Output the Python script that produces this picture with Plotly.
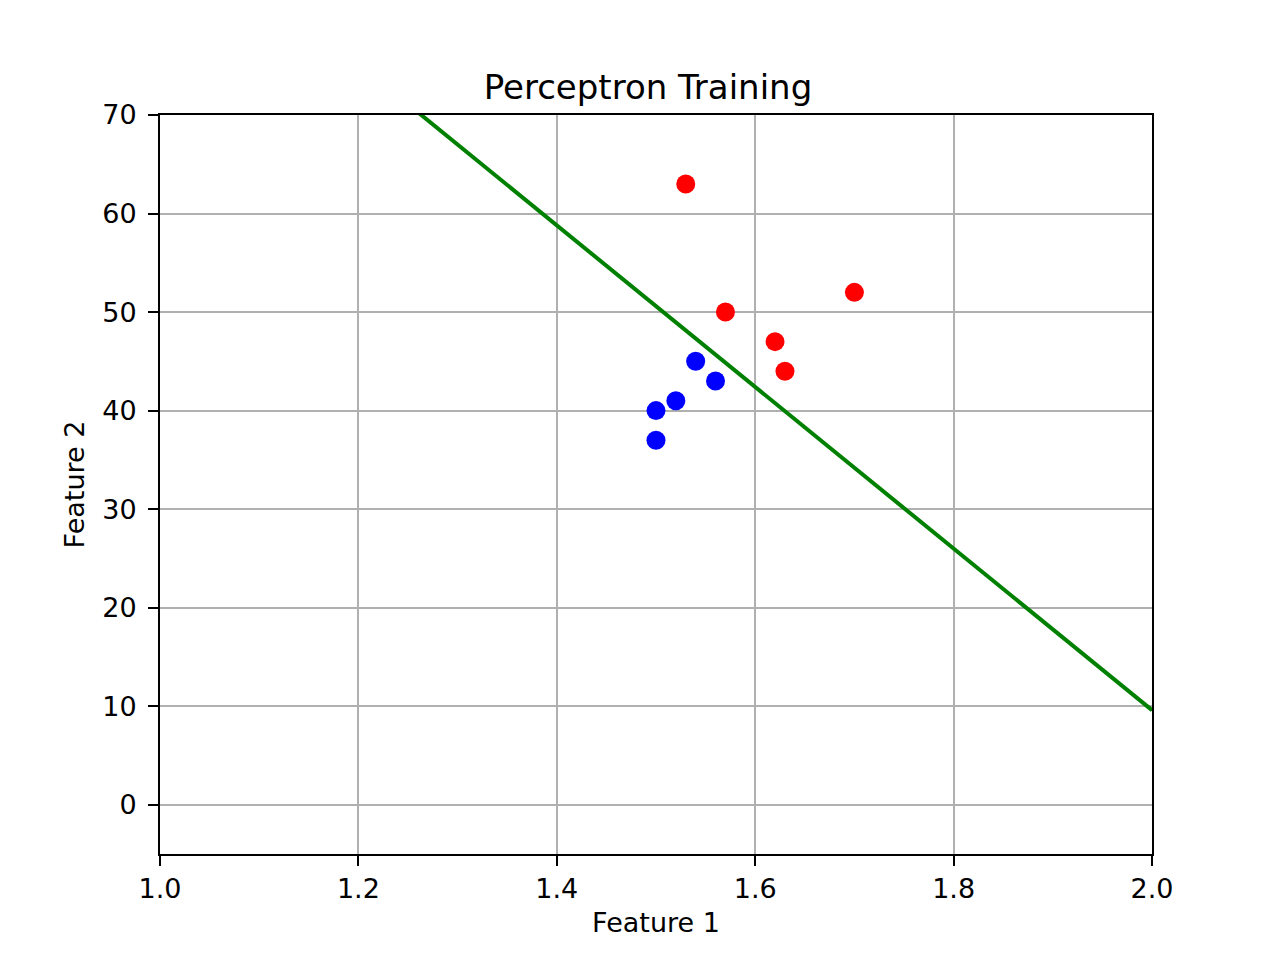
import plotly.graph_objects as go

# Feature values of the two classes
red_x = [1.53, 1.57, 1.62, 1.63, 1.70]
red_y = [63, 50, 47, 44, 52]
blue_x = [1.50, 1.50, 1.52, 1.54, 1.56]
blue_y = [40, 37, 41, 45, 43]

# Decision boundary found by the perceptron
line_x = [1.0, 2.0]
line_y = [91.6, 9.6]

fig = go.Figure()
fig.add_trace(go.Scatter(x=line_x, y=line_y, mode="lines",
                         line=dict(color="green", width=4)))
fig.add_trace(go.Scatter(x=red_x, y=red_y, mode="markers",
                         marker=dict(color="red", size=19)))
fig.add_trace(go.Scatter(x=blue_x, y=blue_y, mode="markers",
                         marker=dict(color="blue", size=19)))

axis_style = dict(showline=True, linecolor="black", linewidth=2, mirror=True,
                  ticks="outside", ticklen=10, tickwidth=2, tickcolor="black",
                  showgrid=True, gridcolor="#b0b0b0", gridwidth=2, zeroline=False,
                  tickfont=dict(size=27, color="black"))

# page body has an 8px margin, so shift the plot area back
fig.update_layout(
    width=1280, height=960,
    paper_bgcolor="white", plot_bgcolor="white",
    margin=dict(l=152, r=136, t=107, b=114),
    showlegend=False,
    font=dict(family="DejaVu Sans", color="black"),
    title=dict(text="Perceptron Training", x=0.5, xanchor="center",
               y=1, yref="paper", yanchor="bottom", pad=dict(b=16),
               font=dict(size=34, color="black")),
)
fig.update_xaxes(range=[1.0, 2.0], dtick=0.2, tickformat=".1f",
                 title=dict(text="Feature 1", font=dict(size=27), standoff=10),
                 **axis_style)
fig.update_yaxes(range=[-5, 70], dtick=10, ticklabelstandoff=6,
                 title=dict(text="Feature 2", font=dict(size=27), standoff=10),
                 **axis_style)

fig.write_html("out.html")
